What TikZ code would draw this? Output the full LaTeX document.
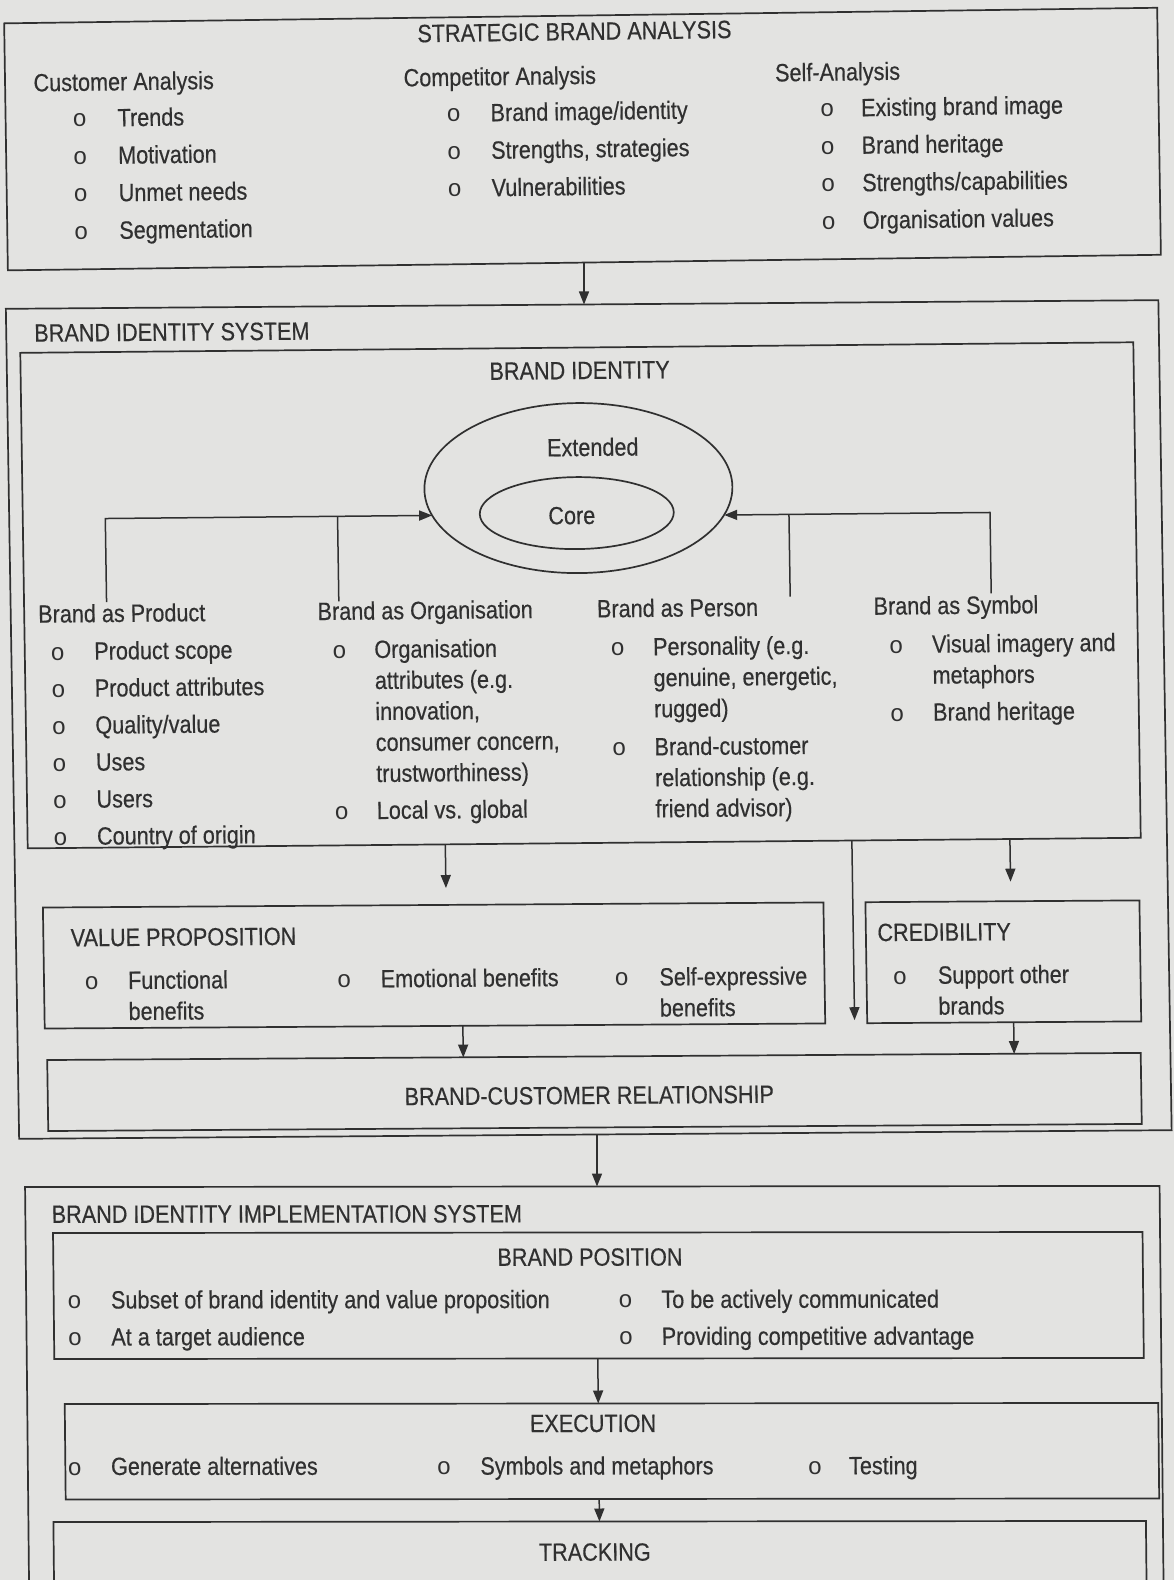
\documentclass[tikz,border=0pt]{standalone}
\usepackage{fontspec}
\setmainfont[FakeStretch=0.865,FakeBold=0.4]{Liberation Sans}
\newfontfamily\bulfont{Liberation Mono}
\usetikzlibrary{arrows.meta,shapes.geometric}
\definecolor{ink}{RGB}{48,48,48}
\definecolor{paper}{RGB}{227,227,225}
\newcommand{\BItem}[5]{\node[bul] (#1b) at (#2,#4) {o}; \node[txt] (#1) at (#3,#4) {#5};}
\newcommand{\Ln}[4]{\node[txt] (#1) at (#2,#3) {#4};}
\begin{document}
\begin{tikzpicture}[x=1pt,y=-1pt,
  every node/.style={font=\fontsize{25}{31}\selectfont, text=ink, inner sep=0pt, outer sep=0pt},
  box/.style={draw=ink, line width=1.7pt, rectangle},
  oval/.style={draw=ink, line width=1.7pt, ellipse},
  txt/.style={anchor=base west},
  ctr/.style={anchor=base},
  bul/.style={anchor=base, font=\bulfont\fontsize{24}{30}\selectfont},
  arr/.style={draw=ink, line width=1.5pt, -{Triangle[length=13pt,width=10pt]}},
  con/.style={draw=ink, line width=1.5pt},
]
\useasboundingbox (0,0) rectangle (1174,1580);
\clip (0,0) rectangle (1174,1580);
\fill[paper] (0,0) rectangle (1174,1580);

% ---------- STRATEGIC BRAND ANALYSIS ----------
\begin{scope}[shift={(587,138)}, cm={1,0.0135,-0.015,1,(0,0)}, shift={(-587,-138)}, transform shape]
\node[box, minimum width=1153pt, minimum height=247pt] (sba) at (582.5,139) {};
\node[ctr] (sbaT) at (576,40) {STRATEGIC BRAND ANALYSIS};
\node[txt] (cuH) at (34.5,84) {Customer Analysis};
\node[txt] (coH) at (404.6,84) {Competitor Analysis};
\node[txt] (seH) at (776,84) {Self-Analysis};
\BItem{cu1}{80}{118}{120}{Trends}
\BItem{cu2}{80}{118}{157.5}{Motivation}
\BItem{cu3}{80}{118}{195}{Unmet needs}
\BItem{cu4}{80}{118}{232.5}{Segmentation}
\BItem{co1}{454}{491}{120}{Brand image/identity}
\BItem{co2}{454}{491}{157.5}{Strengths, strategies}
\BItem{co3}{454}{491}{195}{Vulnerabilities}
\BItem{se1}{827.5}{861.5}{120}{Existing brand image}
\BItem{se2}{827.5}{861.5}{157.5}{Brand heritage}
\BItem{se3}{827.5}{861.5}{195}{Strengths/capabilities}
\BItem{se4}{827.5}{861.5}{232.5}{Organisation values}
\end{scope}

% ---------- BRAND IDENTITY SYSTEM (outer) ----------
\begin{scope}[shift={(587,720)}, cm={1,0.0075,-0.016,1,(0,0)}, shift={(-587,-720)}, transform shape]
\node[box, minimum width=1152.5pt, minimum height=830pt] (bis) at (588.75,719.5) {};
\node[txt] (bisT) at (40.6,337.6) {BRAND IDENTITY SYSTEM};
\end{scope}

% ---------- BRAND IDENTITY (inner) ----------
\begin{scope}[shift={(587,595)}, cm={1,0.0095,-0.015,1,(0,0)}, shift={(-587,-595)}, transform shape]
\node[box, minimum width=1113pt, minimum height=495.5pt] (bi) at (580.5,595.25) {};
\node[ctr] (biT) at (583,379) {BRAND IDENTITY};
\node[oval, minimum width=308pt, minimum height=170pt] (ext) at (580,488) {};
\node[oval, minimum width=194pt, minimum height=72pt] (core) at (578,513) {};
\node[ctr] (extT) at (595,456) {Extended};
\node[ctr] (coreT) at (573,524) {Core};
\node[txt] (prH) at (38,617.5) {Brand as Product};
\node[txt] (orH) at (317.4,617.5) {Brand as Organisation};
\node[txt] (peH) at (596.8,617.5) {Brand as Person};
\node[txt] (syH) at (873.4,617.5) {Brand as Symbol};
\BItem{pr1}{57}{93.5}{655}{Product scope}
\BItem{pr2}{57}{93.5}{692}{Product attributes}
\BItem{pr3}{57}{93.5}{729}{Quality/value}
\BItem{pr4}{57}{93.5}{766}{Uses}
\BItem{pr5}{57}{93.5}{803}{Users}
\BItem{pr6}{57}{93.5}{840}{Country of origin}
\BItem{or1}{338.6}{373.6}{656}{Organisation}
\Ln{or1b2}{373.6}{687}{attributes (e.g.}
\Ln{or1b3}{373.6}{718}{innovation,}
\Ln{or1b4}{373.6}{749}{consumer concern,}
\Ln{or1b5}{373.6}{780}{trustworthiness)}
\BItem{or2}{338.6}{373.6}{817}{Local vs. global}
\BItem{pe1}{617}{652.3}{656}{Personality (e.g.}
\Ln{pe1l2}{652.3}{687}{genuine, energetic,}
\Ln{pe1l3}{652.3}{718}{rugged)}
\BItem{pe2}{617}{652.3}{756}{Brand-customer}
\Ln{pe2l2}{652.3}{787}{relationship (e.g.}
\Ln{pe2l3}{652.3}{818}{friend advisor)}
\BItem{sy1}{895.5}{931.3}{656}{Visual imagery and}
\Ln{sy1l2}{931.3}{687}{metaphors}
\BItem{sy2}{895.5}{931.3}{724}{Brand heritage}
% connectors to the identity ellipse
\coordinate (pv) at (106.5,597.5);
\coordinate (ov) at (338.7,599);
\coordinate (perv) at (790,598.5);
\coordinate (symv) at (991,597);
\draw[arr] (pv) |- (ext.190.36);
\draw[con] (ov) -- (ov |- ext.190.36);
\draw[arr] (symv) |- (ext.349.64);
\draw[con] (perv) -- (perv |- ext.349.64);
% arrows leaving the identity box
\coordinate (vpTip) at (441.5,886.5);
\coordinate (crTip) at (1006,885.5);
\coordinate (lgTip) at (848,1022.5);
\draw[arr] (bi.south -| vpTip) -- (vpTip);
\draw[arr] (bi.south -| crTip) -- (crTip);
\draw[arr] (bi.south -| lgTip) -- (lgTip);
\end{scope}

% ---------- VALUE PROPOSITION / CREDIBILITY / RELATIONSHIP ----------
\begin{scope}[shift={(587,1010)}, cm={1,0.0065,-0.015,1,(0,0)}, shift={(-587,-1010)}, transform shape]
\node[box, minimum width=780.5pt, minimum height=121pt] (vp) at (434.75,964.5) {};
\node[box, minimum width=274pt, minimum height=121pt] (cred) at (1004,964.5) {};
\node[box, minimum width=1093.5pt, minimum height=71pt] (bcr) at (593.25,1092) {};
\node[txt] (vpT) at (71.9,943) {VALUE PROPOSITION};
\node[txt] (crT) at (878.6,943) {CREDIBILITY};
\BItem{vp1}{92.2}{128.6}{986}{Functional}
\Ln{vp1l2}{128.6}{1017}{benefits}
\BItem{vp2}{344.8}{381.2}{986}{Emotional benefits}
\BItem{vp3}{622.1}{659.9}{986}{Self-expressive}
\Ln{vp3l2}{659.9}{1017}{benefits}
\BItem{cr1}{900.4}{938.4}{986}{Support other}
\Ln{cr1l2}{938.4}{1017}{brands}
\node[ctr] (bcrT) at (588,1104) {BRAND-CUSTOMER RELATIONSHIP};
\coordinate (vpx) at (462.5,1040);
\coordinate (crx) at (1013.2,1040);
\draw[arr] (vp.south -| vpx) -- (bcr.north -| vpx);
\draw[arr] (cred.south -| crx) -- (bcr.north -| crx);
\end{scope}

% ---------- BRAND IDENTITY IMPLEMENTATION SYSTEM ----------
\begin{scope}[shift={(587,1380)}, cm={1,0.001,-0.01,1,(0,0)}, shift={(-587,-1380)}, transform shape]
\node[box, minimum width=1134.5pt, minimum height=453.5pt] (bii) at (594.25,1413.25) {};
\node[txt] (biiT) at (53.4,1222.3) {BRAND IDENTITY IMPLEMENTATION SYSTEM};
\node[box, minimum width=1089.5pt, minimum height=126pt] (bp) at (599.25,1295.5) {};
\node[ctr] (bpT) at (591.2,1265.7) {BRAND POSITION};
\BItem{bp1}{75.4}{111.8}{1308}{Subset of brand identity and value proposition}
\BItem{bp2}{75.4}{111.8}{1345}{At a target audience}
\BItem{bp3}{626.3}{662.2}{1308}{To be actively communicated}
\BItem{bp4}{626.3}{662.2}{1345}{Providing competitive advantage}
\node[box, minimum width=1093.5pt, minimum height=95.5pt] (exe) at (611.25,1451.25) {};
\node[ctr] (exeT) at (592.6,1432) {EXECUTION};
\BItem{ex1}{73.8}{110.2}{1474.5}{Generate alternatives}
\BItem{ex2}{443.2}{479.5}{1474.5}{Symbols and metaphors}
\BItem{ex3}{814.1}{848.2}{1474.5}{Testing}
\node[box, minimum width=1092.5pt, minimum height=118.5pt] (trk) at (598.25,1580.75) {};
\node[ctr] (trkT) at (593.1,1560.7) {TRACKING};
\coordinate (ex) at (598,1380);
\draw[arr] (bp.south -| ex) -- (exe.north -| ex);
\draw[arr] (exe.south -| ex) -- (trk.north -| ex);
\end{scope}

% ---------- arrows between the three systems ----------
\coordinate (a1x) at (584,280);
\draw[arr] (sba.south -| a1x) -- (bis.north -| a1x);
\coordinate (a2x) at (597,1160);
\draw[arr] (bis.south -| a2x) -- (bii.north -| a2x);
\end{tikzpicture}
\end{document}
